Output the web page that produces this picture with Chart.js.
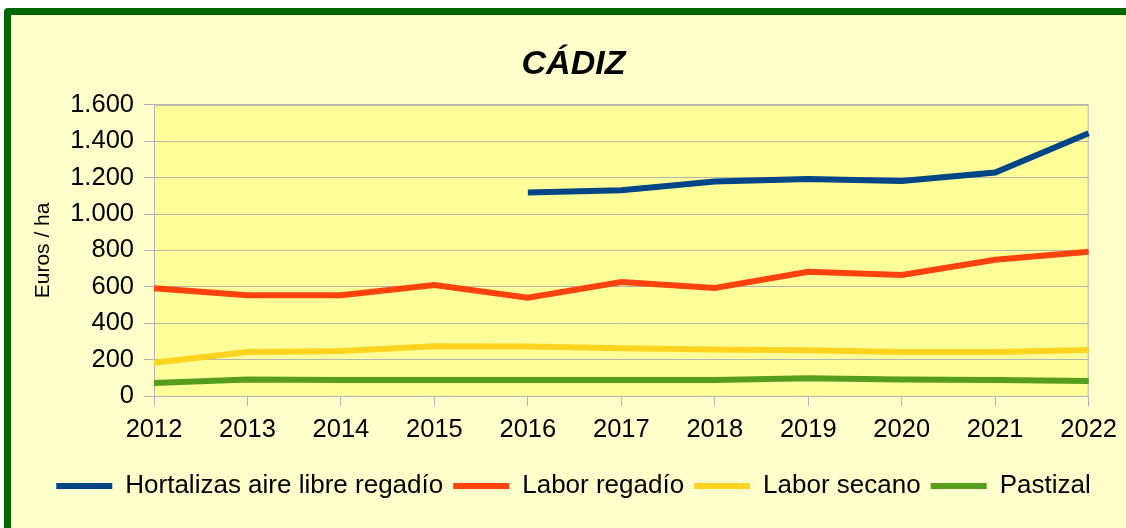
<!DOCTYPE html>
<html>
<head>
<meta charset="utf-8">
<script src="https://cdn.jsdelivr.net/npm/chart.js@4"></script>
<style>
  html, body { margin: 0; padding: 0; background: #ffffff; overflow: hidden; }
  #frame {
    position: absolute; left: 4px; top: 8px; width: 1140px; height: 540px;
    border: 7px solid #006600; border-radius: 4px; background: #ffffcc;
  }
  #wrap { position: absolute; left: 0; top: 0; width: 1126px; height: 528px; }
</style>
</head>
<body>
<div id="frame"></div>
<div id="wrap"><canvas id="chart" width="1126" height="528"></canvas></div>
<script>
// categories and values
const years = ['2012', '2013', '2014', '2015', '2016', '2017', '2018', '2019', '2020', '2021', '2022'];
const hortalizas = [null, null, null, null, 1118, 1131, 1178, 1192, 1182, 1228, 1444];
const laborRegadio = [592, 554, 553, 610, 540, 626, 594, 682, 665, 749, 793];
const laborSecano = [183, 242, 247, 273, 272, 262, 255, 251, 242, 242, 253];
const pastizal = [71, 90, 88, 88, 88, 88, 88, 97, 90, 88, 82];

const seriesNames = ['Hortalizas aire libre regadío', 'Labor regadío', 'Labor secano', 'Pastizal'];
const seriesColors = ['#004586', '#ff420e', '#ffd320', '#579d1c'];

const font = 'Liberation Sans, Arial, sans-serif';

// pale yellow plot area with a grey frame
const plotArea = {
    id: 'plotArea',
    beforeDraw(chart) {
        const a = chart.chartArea, ctx = chart.ctx;
        ctx.save();
        ctx.fillStyle = '#ffff99';
        ctx.fillRect(a.left, a.top, a.right - a.left, a.bottom - a.top);
        ctx.restore();
    },
    beforeDatasetsDraw(chart) {
        const a = chart.chartArea, ctx = chart.ctx;
        ctx.save();
        ctx.strokeStyle = '#b3b3b3';
        ctx.lineWidth = 1;
        ctx.strokeRect(a.left + 0.5, a.top + 0.5, a.right - a.left - 1, a.bottom - a.top);
        ctx.restore();
    }
};

function makeSet(i, values) {
    return {
        label: seriesNames[i],
        data: values,
        borderColor: seriesColors[i],
        backgroundColor: seriesColors[i],
        borderWidth: 6,
        pointRadius: 0,
        tension: 0
    };
}

const ctx = document.getElementById('chart').getContext('2d');
new Chart(ctx, {
    type: 'line',
    data: {
        labels: years,
        datasets: [
            makeSet(0, hortalizas),
            makeSet(1, laborRegadio),
            makeSet(2, laborSecano),
            makeSet(3, pastizal)
        ]
    },
    options: {
        responsive: false,
        animation: false,
        layout: { padding: { left: 27, right: 6, top: 10, bottom: 19 } },
        plugins: {
            title: {
                display: true,
                text: 'CÁDIZ',
                color: '#000000',
                font: { family: font, size: 34, weight: 'bold', style: 'italic' },
                padding: { top: 34, bottom: 20 }
            },
            legend: {
                position: 'bottom',
                labels: {
                    color: '#000000',
                    font: { family: font, size: 26 },
                    boxWidth: 56,
                    boxHeight: 6,
                    padding: 10,
                    generateLabels(chart) {
                        return chart.data.datasets.map((ds, i) => ({
                            text: ds.label,
                            fillStyle: ds.borderColor,
                            strokeStyle: ds.borderColor,
                            lineWidth: 0,
                            hidden: false,
                            datasetIndex: i
                        }));
                    }
                }
            },
            tooltip: { enabled: false }
        },
        scales: {
            x: {
                grid: { display: true, drawOnChartArea: false, drawTicks: true, tickLength: 10, color: '#b3b3b3' },
                border: { display: true, color: '#b3b3b3' },
                ticks: { color: '#000000', font: { family: font, size: 25.5 }, padding: 9, maxRotation: 0 },
                afterFit(scale) { scale.height = 67; }
            },
            y: {
                min: 0,
                max: 1600,
                grid: { color: '#b3b3b3', tickLength: 10 },
                border: { display: true, color: '#b3b3b3' },
                ticks: {
                    stepSize: 200,
                    color: '#000000',
                    padding: 10,
                    font: { family: font, size: 25.5 },
                    callback: v => v.toString().replace(/\B(?=(\d{3})+(?!\d))/g, '.')
                },
                title: {
                    display: true,
                    text: 'Euros / ha',
                    color: '#000000',
                    font: { family: font, size: 21 },
                    padding: { top: 4, bottom: 4 }
                },
                afterFit(scale) { scale.width = 127; }
            }
        }
    },
    plugins: [plotArea]
});
</script>
</body>
</html>
